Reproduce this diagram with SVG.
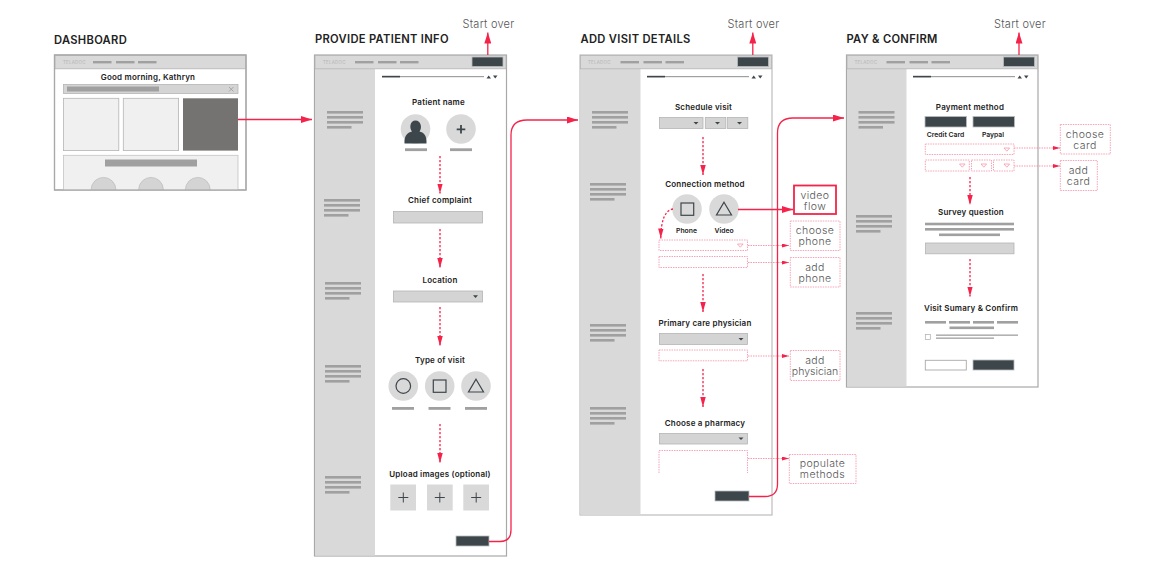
<svg xmlns="http://www.w3.org/2000/svg" xmlns:xlink="http://www.w3.org/1999/xlink" width="1170" height="585" viewBox="0 0 1170 585">
<style>
text{font-family:Inter,"Liberation Sans",sans-serif;text-anchor:middle;fill:#222}
.title{font-size:11.2px;font-weight:600;text-anchor:start;letter-spacing:.3px}
.h{font-size:8px;font-weight:600;letter-spacing:.2px}
.s{font-size:6.8px;font-weight:600}
.note{font-size:10.5px;font-weight:300;fill:#555;letter-spacing:.4px}
.so{font-size:11px;font-weight:300;fill:#555;letter-spacing:.25px}
.tl{font-size:4.5px;fill:#b5b5b5;text-anchor:start;letter-spacing:.2px}
.frame{fill:#fff;stroke:#a8a8a8;stroke-width:1.2}
.head{fill:#d9d9d9;stroke:#b3b3b3;stroke-width:.8}
.side{fill:#d9d9d9}
.bar{fill:#a0a0a0}
.dark{fill:#3d464b;stroke:#b9bcbe;stroke-width:.8}
.field{fill:#d4d4d4;stroke:#b5b5b5;stroke-width:.8}
.circ{fill:#d9d9d9}
.glyph{fill:none;stroke:#3d464b;stroke-width:1.2}
.tri{fill:#3d464b}
.ptri{fill:none;stroke:#f58ba0;stroke-width:.7}
.pink{fill:#fff;stroke:#f79ab0;stroke-width:.9;stroke-dasharray:1.5 1}
.pinkn{fill:none;stroke:#f79ab0;stroke-width:.9;stroke-dasharray:1.5 1}
.solid{fill:none;stroke:#f5234a;stroke-width:1.3}
.dash{fill:none;stroke:#f5234a;stroke-width:1.3;stroke-dasharray:2.2 1.8}
.dot{fill:none;stroke:#f77f98;stroke-width:.8;stroke-dasharray:1.5 1}
.box{fill:#fff;stroke:#f5234a;stroke-width:1.8}
</style>
<defs>
<marker id="ah" viewBox="0 0 11 7" refX="11" refY="3.5" markerWidth="11" markerHeight="7" markerUnits="userSpaceOnUse" orient="auto"><path d="M0 0L11 3.5L0 7Z" fill="#f5234a"/></marker>
<marker id="ad" viewBox="0 0 11 6" refX="11" refY="3" markerWidth="10" markerHeight="6" markerUnits="userSpaceOnUse" orient="auto"><path d="M0 0L11 3L0 6Z" fill="#f5234a"/></marker>
<marker id="as" viewBox="0 0 7 4" refX="7" refY="2" markerWidth="7" markerHeight="4" markerUnits="userSpaceOnUse" orient="auto"><path d="M0 0L7 2L0 4Z" fill="#f5234a"/></marker>
<g id="lines"><rect class="bar" x="0" y="0" width="36" height="2.6"/><rect class="bar" x="0" y="5" width="36" height="2.6"/><rect class="bar" x="0" y="10" width="36" height="2.6"/><rect class="bar" x="0" y="15" width="24.5" height="2.6"/></g>
<g id="nav"><rect class="bar" x="0" y="0" width="18.5" height="2.4"/><rect class="bar" x="23" y="0" width="18.5" height="2.4"/><rect class="bar" x="45" y="0" width="18.5" height="2.4"/></g>
<g id="prog"><rect x="0" y="76" width="102" height="1.2" fill="#a0a0a0"/><rect x="0" y="75.8" width="18" height="1.6" fill="#3d464b"/><path class="tri" d="M104.500 78.500L109 78.500L106.700 75.500ZM111 75.500L115.500 75.500L113.200 78.500Z"/></g>
<path id="dd" class="tri" d="M0 0H5L2.500 2.600Z"/>
<path id="pd" class="ptri" d="M0 0H5.600L2.800 3.200Z"/>
<clipPath id="dclip"><rect x="54" y="150" width="192" height="40"/></clipPath>
</defs>

<g id="dashboard">
<text class="title" x="54" y="44">DASHBOARD</text>
<rect class="frame" x="54.500" y="55" width="191.500" height="135"/>
<rect class="head" x="55" y="55.500" width="190.500" height="13.300"/>
<text class="tl" x="63" y="64">TELADOC</text>
<use xlink:href="#nav" href="#nav" x="93" y="61"/>
<text class="h" x="148" y="80">Good morning, Kathryn</text>
<rect class="field" x="63.500" y="84.500" width="174.500" height="9"/>
<rect class="bar" x="67" y="86.500" width="92" height="5"/>
<path d="M229 87L233.500 91.500M233.500 87L229 91.500" stroke="#9a9a9a" stroke-width=".8" fill="none"/>
<rect x="63.500" y="98.300" width="55.300" height="52.300" fill="#f0f0f0" stroke="#b5b5b5" stroke-width=".8"/>
<rect x="123.300" y="98.300" width="55.300" height="52.300" fill="#f0f0f0" stroke="#b5b5b5" stroke-width=".8"/>
<rect x="183" y="98.300" width="55" height="52.300" fill="#757371"/>
<rect x="63.500" y="155.300" width="174.500" height="35" fill="#f0f0f0" stroke="#c4c4c4" stroke-width=".8"/>
<rect class="bar" x="105" y="159.500" width="92" height="7"/>
<g clip-path="url(#dclip)">
<circle cx="103.500" cy="189.800" r="12.400" fill="#d4d4d4" stroke="#b5b5b5" stroke-width=".6"/>
<circle cx="151" cy="189.800" r="12.400" fill="#d4d4d4" stroke="#b5b5b5" stroke-width=".6"/>
<circle cx="197.800" cy="189.800" r="12.400" fill="#d4d4d4" stroke="#b5b5b5" stroke-width=".6"/>
</g>
<rect x="54.500" y="55" width="191.500" height="135" fill="none" stroke="#a8a8a8" stroke-width="1.200"/>
</g>

<g id="patient-info">
<text class="title" x="315" y="43">PROVIDE PATIENT INFO</text>
<text class="so" x="488.500" y="28">Start over</text>
<rect class="frame" x="314.500" y="55" width="192" height="501"/>
<rect class="side" x="315" y="69" width="60" height="486.500"/>
<rect class="head" x="315" y="55.500" width="191" height="13.300"/>
<text class="tl" x="323" y="64">TELADOC</text>
<use xlink:href="#nav" href="#nav" x="355" y="61"/>
<rect class="dark" x="472" y="57" width="31" height="9.500"/>
<use xlink:href="#prog" href="#prog" x="382" y="0"/>
<use xlink:href="#lines" href="#lines" x="327" y="111"/>
<use xlink:href="#lines" href="#lines" x="324" y="199"/>
<use xlink:href="#lines" href="#lines" x="325" y="282"/>
<use xlink:href="#lines" href="#lines" x="325" y="365"/>
<use xlink:href="#lines" href="#lines" x="325" y="476"/>
<text class="h" x="438.500" y="105">Patient name</text>
<circle class="circ" cx="415.500" cy="129" r="14.800"/>
<circle class="circ" cx="461" cy="129" r="14.800"/>
<path class="tri" d="M404.500 143.500C404 135 408 132.500 412 131.500C409 128 410 120.500 415.500 120.500C421 120.500 422.500 128 419.500 131.500C423.500 132.500 427 135 426.500 143.500Z"/>
<path d="M461 125V133.500M456.700 129.300H465.300" stroke="#3d464b" stroke-width="1.800" fill="none"/>
<rect class="bar" x="405" y="148.300" width="22" height="2.800"/>
<rect class="bar" x="450" y="148.300" width="22" height="2.800"/>
<text class="h" x="440" y="203">Chief complaint</text>
<rect class="field" x="393.500" y="211.500" width="89" height="11.500"/>
<text class="h" x="440" y="283">Location</text>
<rect class="field" x="393.500" y="291" width="89" height="11"/>
<use xlink:href="#dd" href="#dd" x="473" y="295.300"/>
<text class="h" x="440" y="363">Type of visit</text>
<circle class="circ" cx="403.300" cy="386" r="14.800"/>
<circle class="circ" cx="439.700" cy="386" r="14.800"/>
<circle class="circ" cx="476" cy="386" r="14.800"/>
<circle class="glyph" cx="403.300" cy="386" r="7.300"/>
<rect class="glyph" x="433.300" y="380" width="12.700" height="12.300"/>
<path class="glyph" d="M476 379.300L483.500 392H468.500Z"/>
<rect class="bar" x="392" y="407" width="22" height="2.800"/>
<rect class="bar" x="428.500" y="407" width="22" height="2.800"/>
<rect class="bar" x="465" y="407" width="22" height="2.800"/>
<text class="h" x="440" y="477">Upload images (optional)</text>
<g fill="#d9d9d9"><rect x="390.300" y="484.500" width="25.700" height="26"/><rect x="427" y="484.500" width="25.700" height="26"/><rect x="463.300" y="484.500" width="25.700" height="26"/></g>
<path d="M403.300 492.500V502.500M398.300 497.500H408.300M439.800 492.500V502.500M434.800 497.500H444.800M476.200 492.500V502.500M471.200 497.500H481.200" stroke="#3d464b" stroke-width="1" fill="none"/>
<rect class="dark" x="456" y="536" width="33" height="10"/>
</g>

<g id="visit-details">
<text class="title" x="580.500" y="43">ADD VISIT DETAILS</text>
<text class="so" x="753.500" y="28">Start over</text>
<rect class="frame" x="580" y="55" width="192" height="460" style="stroke:#bdbdbd"/>
<rect class="side" x="580.500" y="69" width="60" height="445.500"/>
<rect class="head" x="580.500" y="55.500" width="191" height="13.300"/>
<text class="tl" x="588" y="64">TELADOC</text>
<use xlink:href="#nav" href="#nav" x="620.500" y="61"/>
<rect class="dark" x="737.500" y="57" width="31" height="9.500"/>
<use xlink:href="#prog" href="#prog" x="647" y="0"/>
<use xlink:href="#lines" href="#lines" x="592" y="111"/>
<use xlink:href="#lines" href="#lines" x="590" y="183"/>
<use xlink:href="#lines" href="#lines" x="590" y="324"/>
<use xlink:href="#lines" href="#lines" x="590" y="407"/>
<text class="h" x="703.500" y="110">Schedule visit</text>
<rect class="field" x="659.500" y="117.500" width="43.500" height="11"/>
<rect class="field" x="705.300" y="117.500" width="20.500" height="11"/>
<rect class="field" x="727.300" y="117.500" width="20.500" height="11"/>
<use xlink:href="#dd" href="#dd" x="693.500" y="122"/>
<use xlink:href="#dd" href="#dd" x="715" y="122"/>
<use xlink:href="#dd" href="#dd" x="737" y="122"/>
<text class="h" x="705" y="187">Connection method</text>
<circle class="circ" cx="687" cy="209" r="14.800"/>
<circle class="circ" cx="724" cy="209" r="14.800"/>
<rect class="glyph" x="681" y="203" width="12.700" height="12.300"/>
<path class="glyph" d="M724 202.300L731.500 215H716.500Z"/>
<text class="s" x="686.500" y="233">Phone</text>
<text class="s" x="724" y="233">Video</text>
<rect class="pink" x="659" y="240" width="88.500" height="10.500"/>
<use xlink:href="#pd" href="#pd" x="737.500" y="244"/>
<rect class="pink" x="659" y="256.500" width="88.500" height="11"/>
<text class="h" x="705" y="326">Primary care physician</text>
<rect class="field" x="659.500" y="333.500" width="88" height="11"/>
<use xlink:href="#dd" href="#dd" x="738.500" y="338"/>
<rect class="pink" x="659" y="350" width="88.500" height="10.800"/>
<text class="h" x="705" y="425.500">Choose a pharmacy</text>
<rect class="field" x="659.500" y="433.500" width="88" height="10.500"/>
<use xlink:href="#dd" href="#dd" x="738.500" y="437.500"/>
<path class="pinkn" d="M659 473V450.500H747.500V473"/>
<rect class="dark" x="715" y="491" width="34" height="10"/>
</g>

<g id="pay-confirm">
<text class="title" x="846.500" y="43">PAY &amp; CONFIRM</text>
<text class="so" x="1020" y="28">Start over</text>
<rect class="frame" x="846.500" y="55" width="191.500" height="332"/>
<rect class="side" x="847" y="69" width="59.500" height="317.500"/>
<rect class="head" x="847" y="55.500" width="190.500" height="13.300"/>
<text class="tl" x="854.500" y="64">TELADOC</text>
<use xlink:href="#nav" href="#nav" x="886.500" y="61"/>
<rect class="dark" x="1003.500" y="57" width="31" height="9.500"/>
<use xlink:href="#prog" href="#prog" x="913" y="0"/>
<use xlink:href="#lines" href="#lines" x="858.500" y="111"/>
<use xlink:href="#lines" href="#lines" x="856" y="215"/>
<use xlink:href="#lines" href="#lines" x="856" y="312"/>
<text class="h" x="970" y="110">Payment method</text>
<rect class="dark" x="925" y="116.500" width="41.500" height="10.500"/>
<rect class="dark" x="973" y="116.500" width="41.500" height="10.500"/>
<text class="s" x="945.500" y="137">Credit Card</text>
<text class="s" x="993" y="137">Paypal</text>
<rect class="pink" x="925.300" y="144" width="88.700" height="10.500"/>
<use xlink:href="#pd" href="#pd" x="1004" y="148"/>
<rect class="pink" x="925.300" y="160" width="44" height="11"/>
<rect class="pink" x="971.500" y="160" width="20" height="11"/>
<rect class="pink" x="993.500" y="160" width="20.500" height="11"/>
<use xlink:href="#pd" href="#pd" x="959.500" y="164"/>
<use xlink:href="#pd" href="#pd" x="981" y="164"/>
<use xlink:href="#pd" href="#pd" x="1004" y="164"/>
<text class="h" x="971" y="215">Survey question</text>
<rect class="bar" x="925" y="222.700" width="89" height="2.600"/>
<rect class="bar" x="925" y="228" width="89" height="2.600"/>
<rect class="bar" x="939" y="233.500" width="61" height="2.600"/>
<rect class="field" x="925.500" y="243" width="88.500" height="10.800"/>
<text class="h" x="971" y="311">Visit Sumary &amp; Confirm</text>
<g class="bar"><rect x="925" y="321" width="21" height="2.600"/><rect x="949" y="321" width="21" height="2.600"/><rect x="973" y="321" width="21" height="2.600"/><rect x="997" y="321" width="21" height="2.600"/><rect x="949.500" y="326.500" width="44.500" height="2.600"/></g>
<rect x="925.300" y="334.500" width="5" height="5" fill="#fff" stroke="#aaa" stroke-width=".7"/>
<rect class="bar" x="936" y="334.500" width="82" height="1.300"/>
<rect class="bar" x="936" y="337.500" width="58" height="1.300"/>
<rect x="925.300" y="360.300" width="41" height="9.700" fill="#fff" stroke="#a8a8a8" stroke-width=".9"/>
<rect class="dark" x="973" y="360" width="41" height="10"/>
</g>

<g id="notes">
<g id="video-flow"><rect class="box" x="794" y="185.500" width="42" height="28.500"/><text class="note" x="815" y="198.500">video</text><text class="note" x="815" y="209.500">flow</text></g>
<g id="choose-phone"><rect class="pink" x="790.300" y="221" width="49.700" height="29.500"/><text class="note" x="815" y="234">choose</text><text class="note" x="815" y="245">phone</text></g>
<g id="add-phone"><rect class="pink" x="790.300" y="257.500" width="49.700" height="29.500"/><text class="note" x="815" y="270.500">add</text><text class="note" x="815" y="281.500">phone</text></g>
<g id="add-physician"><rect class="pink" x="790.300" y="350.500" width="49.700" height="30"/><text class="note" x="815" y="364">add</text><text class="note" x="815" y="375" style="letter-spacing:0">physician</text></g>
<g id="populate-methods"><rect class="pink" x="789.300" y="454.500" width="66.700" height="29"/><text class="note" x="822.500" y="466.500">populate</text><text class="note" x="822.500" y="477.500">methods</text></g>
<g id="choose-card"><rect class="pink" x="1060.300" y="124.500" width="50" height="29.500"/><text class="note" x="1085" y="138">choose</text><text class="note" x="1085" y="149">card</text></g>
<g id="add-card"><rect class="pink" x="1060.300" y="160.500" width="37" height="30"/><text class="note" x="1078.500" y="174">add</text><text class="note" x="1078.500" y="185">card</text></g>
</g>

<g id="connectors">
<path class="solid" d="M238 119.500H312" marker-end="url(#ah)"/>
<path class="solid" d="M487.800 55V32.500" marker-end="url(#ah)"/>
<path class="solid" d="M752.800 55V32.500" marker-end="url(#ah)"/>
<path class="solid" d="M1019 55V32.500" marker-end="url(#ah)"/>
<path class="solid" d="M489 541.500H500Q511 541.500 511 530V135Q511 120 527 120H578" marker-end="url(#ah)"/>
<path class="solid" d="M749 496.500H765Q777.500 496.500 777.500 484V133Q777.500 118 793 118H844" marker-end="url(#ah)"/>
<path class="solid" d="M738 209.500H793" marker-end="url(#ah)"/>
<path class="dash" d="M440 156V193.500" marker-end="url(#ad)"/>
<path class="dash" d="M440 229V268" marker-end="url(#ad)"/>
<path class="dash" d="M440 307V346" marker-end="url(#ad)"/>
<path class="dash" d="M440 424V463" marker-end="url(#ad)"/>
<path class="dash" d="M703 137V175" marker-end="url(#ad)"/>
<path class="dash" d="M703 274V312" marker-end="url(#ad)"/>
<path class="dash" d="M703 369V407" marker-end="url(#ad)"/>
<path class="dash" d="M673 209Q661 211 660.800 238.500" marker-end="url(#ad)"/>
<path class="dash" d="M970 177V205" marker-end="url(#ad)"/>
<path class="dash" d="M970 259V296.500" marker-end="url(#ad)"/>
<path class="dot" d="M748 245.500H789" marker-end="url(#as)"/>
<path class="dot" d="M748 262.500H789" marker-end="url(#as)"/>
<path class="dot" d="M748 356H789" marker-end="url(#as)"/>
<path class="dot" d="M748 458.500H789" marker-end="url(#as)"/>
<path class="dot" d="M1014 148H1060" marker-end="url(#as)"/>
<path class="dot" d="M1014 166H1060" marker-end="url(#as)"/>
</g>
</svg>
